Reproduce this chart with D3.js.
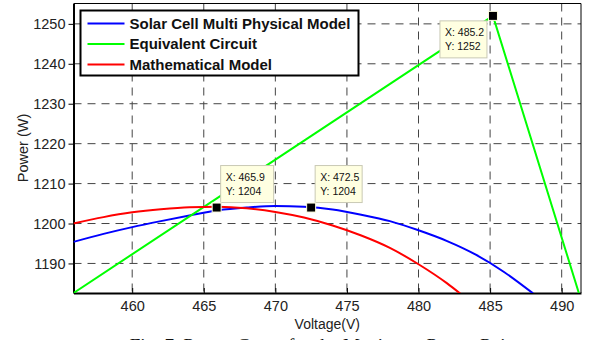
<!DOCTYPE html>
<html>
<head>
<meta charset="utf-8">
<script src="https://d3js.org/d3.v7.min.js"></script>
<style>
  html, body { margin: 0; padding: 0; background: #fff; }
  svg { display: block; font-family: Arial, "Liberation Sans", sans-serif; }
</style>
</head>
<body>
<div id="chart"></div>
<script>
'use strict'

// values
var blueV = [455.9, 458, 460, 462, 464, 466, 468, 470, 472, 474, 476, 478, 480, 482, 484, 486, 488]
  , blueP = [1195.4, 1197.4, 1199.1, 1200.6, 1202.0, 1203.3, 1204.0, 1204.4, 1204.2, 1203.5, 1202.2, 1200.6, 1198.3, 1195.6, 1192.2, 1187.8, 1182.5]
  , greenV = [455.9, 485.2, 491.2]
  , greenP = [1182.6, 1252, 1182.6]
  , redV = [455.9, 458, 460, 462, 464, 466, 468, 470, 472, 474, 476, 478, 480, 482, 483]
  , redP = [1200.0, 1201.6, 1202.8, 1203.6, 1204.1, 1204.2, 1203.8, 1202.9, 1201.5, 1199.5, 1197.0, 1193.9, 1189.8, 1185.0, 1182.2]
  , seriesNames = ['Solar Cell Multi Physical Model', 'Equivalent Circuit', 'Mathematical Model']
  , seriesColors = ['#0000ff', '#00ff00', '#ff0000']
  , xTicks = [460, 465, 470, 475, 480, 485, 490]
  , yTicks = [1190, 1200, 1210, 1220, 1230, 1240, 1250]
  , tipV = [485.2, 465.9, 472.5]
  , tipP = [1252, 1204, 1204]
  , tipLabelX = ['485.2', '465.9', '472.5']
  , tipLabelY = ['1252', '1204', '1204']

var W = 590, H = 340
  , m = { l: 73.5, r: 9, t: 3.5, b: 47 }
  , iw = W - m.l - m.r, ih = H - m.t - m.b
  , x = d3.scaleLinear().domain([455.9, 491.35]).range([0, iw])
  , y = d3.scaleLinear().domain([1182.6, 1255.1]).range([ih, 0])
  , svg = d3.select('#chart').append('svg').attr('width', W).attr('height', H)
  , g = svg.append('g').attr('transform', 'translate(' + m.l + ',' + m.t + ')')

svg.append('defs').append('clipPath').attr('id', 'clip')
  .append('rect').attr('width', iw).attr('height', ih)

// grid
g.append('g').selectAll('line').data(xTicks).enter().append('line')
  .attr('x1', function(d){ return x(d) }).attr('x2', function(d){ return x(d) })
  .attr('y1', 0).attr('y2', ih)
  .attr('stroke', '#444').attr('stroke-width', 1).attr('stroke-dasharray', '8,6')
g.append('g').selectAll('line').data(yTicks).enter().append('line')
  .attr('y1', function(d){ return y(d) }).attr('y2', function(d){ return y(d) })
  .attr('x1', 0).attr('x2', iw)
  .attr('stroke', '#444').attr('stroke-width', 1).attr('stroke-dasharray', '8,6')

// axes
var xAxis = g.append('g').attr('transform', 'translate(0,' + ih + ')')
  .call(d3.axisBottom(x).tickValues(xTicks).tickFormat(d3.format('d'))
    .tickSizeInner(-5).tickSizeOuter(0).tickPadding(8))
var yAxis = g.append('g')
  .call(d3.axisLeft(y).tickValues(yTicks).tickFormat(d3.format('d'))
    .tickSizeInner(5).tickSizeOuter(0).tickPadding(3))
;[xAxis, yAxis].forEach(function(a){
  a.select('.domain').attr('stroke', '#000').attr('stroke-width', 2)
  a.selectAll('.tick line').attr('stroke', '#000')
  a.selectAll('.tick text').attr('fill', '#222').style('font-size', '14.5px')
})
g.append('line').attr('x1', 0).attr('x2', iw).attr('y1', 0).attr('y2', 0).attr('stroke', '#000')
g.append('line').attr('x1', iw).attr('x2', iw).attr('y1', 0).attr('y2', ih).attr('stroke', '#000')

// curves
var line = d3.line().x(function(d){ return x(d[0]) }).y(function(d){ return y(d[1]) })
  , series = [d3.zip(blueV, blueP), d3.zip(greenV, greenP), d3.zip(redV, redP)]
  , smooth = [true, false, true]
var curves = g.append('g').attr('clip-path', 'url(#clip)')
series.forEach(function(s, i){
  curves.append('path').datum(s)
    .attr('d', line.curve(smooth[i] ? d3.curveMonotoneX : d3.curveLinear))
    .attr('fill', 'none').attr('stroke', seriesColors[i]).attr('stroke-width', 2)
})

// data tips
var tipOff = [[-53, 5], [4, -42], [4, -42]]
  , tipW = [47, 53, 47]
tipV.forEach(function(v, i){
  var px = x(v), py = y(tipP[i])
    , bx = px + tipOff[i][0], by = py + tipOff[i][1]
  g.append('rect').attr('x', bx).attr('y', by).attr('width', tipW[i]).attr('height', 37)
    .attr('fill', '#ffffe1').attr('stroke', '#c9c9b4')
  g.append('text').attr('x', bx + 5).attr('y', by + 15).style('font-size', '10.5px').attr('fill', '#111')
    .text('X: ' + tipLabelX[i])
  g.append('text').attr('x', bx + 5).attr('y', by + 29).style('font-size', '10.5px').attr('fill', '#111')
    .text('Y: ' + tipLabelY[i])
  g.append('rect').attr('x', px - 4.5).attr('y', py - 4.5).attr('width', 9).attr('height', 9)
    .attr('fill', '#000').attr('stroke', '#ffffe1').attr('stroke-width', 1)
})

// legend
var lg = svg.append('g').attr('transform', 'translate(80.5,10.5)')
lg.append('rect').attr('width', 278).attr('height', 65)
  .attr('fill', '#fff').attr('stroke', '#000').attr('stroke-width', 2)
seriesNames.forEach(function(n, i){
  var yy = 13 + i * 20.5
  lg.append('line').attr('x1', 7).attr('x2', 44).attr('y1', yy).attr('y2', yy)
    .attr('stroke', seriesColors[i]).attr('stroke-width', 2)
  lg.append('text').attr('x', 49).attr('y', yy + 5).style('font-size', '15px').style('font-weight', 'bold')
    .attr('fill', '#111').text(n)
})

// axis titles
svg.append('text').attr('x', m.l + iw / 2).attr('y', 329).attr('text-anchor', 'middle')
  .style('font-size', '14px').attr('fill', '#222').text('Voltage(V)')
svg.append('text').attr('transform', 'translate(28,148) rotate(-90)').attr('text-anchor', 'middle')
  .style('font-size', '14.5px').attr('fill', '#222').text('Power (W)')

// caption, cut by the bottom edge as in the source figure
svg.append('text').attr('x', 325).attr('y', 352).attr('text-anchor', 'middle')
  .style('font-family', '"Liberation Serif", "Times New Roman", serif').style('font-size', '19px')
  .attr('fill', '#111').text('Fig. 7. Power Curve for the Maximum Power Point')
</script>
</body>
</html>
